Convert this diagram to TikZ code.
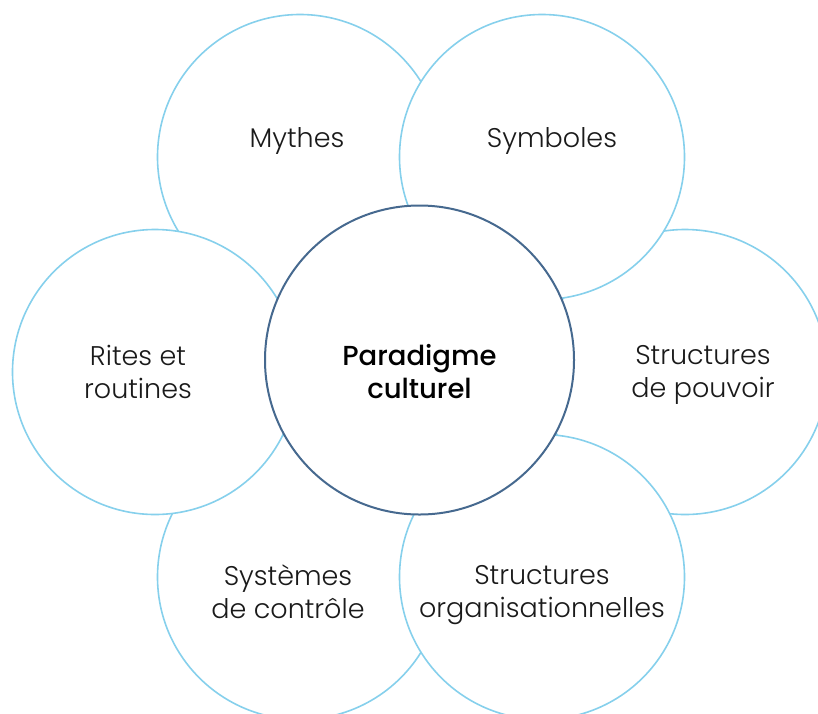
\documentclass[tikz,border=0pt]{standalone}
\usepackage{fontspec}
\setmainfont{Poppins}[UprightFont={* Light},BoldFont={* Medium}]
\definecolor{lightring}{HTML}{86D0EC}
\definecolor{darkring}{HTML}{46698F}
\definecolor{txt}{HTML}{1A1A1A}
\tikzset{
  outer/.style={circle,draw=lightring,line width=1.6pt,fill=white,minimum size=285pt,inner sep=0pt},
  inner/.style={circle,draw=darkring,line width=2pt,fill=white,minimum size=309pt,inner sep=0pt},
  lbl/.style={align=center,inner sep=0pt,font=\fontsize{27}{33}\selectfont,text=txt},
  mainlbl/.style={align=center,inner sep=0pt,font=\fontsize{27.5}{33}\selectfont\bfseries,text=black}
}
\begin{document}
\begin{tikzpicture}[x=1pt,y=-1pt]
\useasboundingbox (0,0) rectangle (818,713);
\clip (0,0) rectangle (818,713);
\node[outer] (mythes) at (300,157) {};
\node[outer] (pouvoir) at (685,372) {};
\node[outer] (systemes) at (300,577) {};
\node[outer] (symboles) at (542,157) {};
\node[outer] (organ) at (542,577) {};
\node[outer] (rites) at (155,372) {};
\node[inner] (centre) at (419.5,360) {};
\node[lbl] (tmythes) at (297,141) {Mythes};
\node[lbl] (tsymboles) at (552,141) {Symboles};
\node[lbl] (tpouvoir) at (703,375) {Structures\\de pouvoir};
\node[lbl] (tsystemes) at (288,592) {Systèmes\\de contrôle};
\node[lbl] (torgan) at (542,595) {Structures\\organisationnelles};
\node[lbl] (trites) at (138,372) {Rites et\\routines};
\node[mainlbl] (tcentre) at (419.5,372) {Paradigme\\culturel};
\end{tikzpicture}
\end{document}
